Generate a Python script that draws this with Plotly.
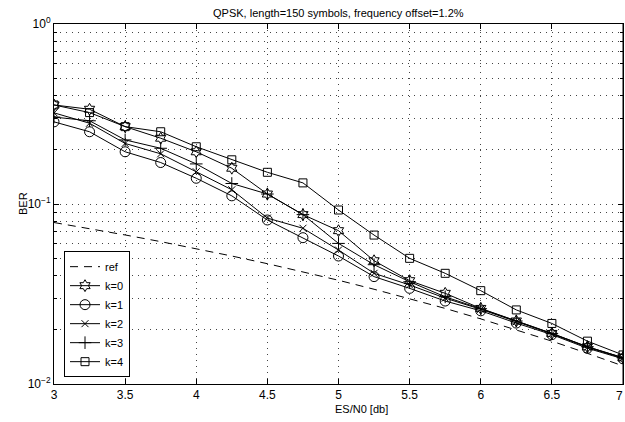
import plotly.graph_objects as go

esn0 = [3, 3.25, 3.5, 3.75, 4, 4.25, 4.5, 4.75, 5, 5.25, 5.5, 5.75, 6, 6.25, 6.5, 6.75, 7]
ref = [0.0789, 0.0730, 0.0673, 0.0618, 0.0565, 0.0514, 0.0466, 0.0420, 0.0377, 0.0336,
       0.0298, 0.0263, 0.0230, 0.0200, 0.0173, 0.0148, 0.0126]
k0 = [0.355, 0.336, 0.269, 0.232, 0.195, 0.158, 0.1136, 0.0873, 0.0711, 0.0484,
      0.0375, 0.0319, 0.0263, 0.0224, 0.0191, 0.0161, 0.0140]
k1 = [0.286, 0.252, 0.195, 0.170, 0.139, 0.111, 0.0815, 0.065, 0.0514, 0.0395,
      0.034, 0.0289, 0.0255, 0.0218, 0.0188, 0.0158, 0.0138]
k2 = [0.321, 0.281, 0.217, 0.190, 0.151, 0.120, 0.0835, 0.0733, 0.0555, 0.0412,
      0.0355, 0.0300, 0.0260, 0.0222, 0.0190, 0.0160, 0.0139]
k3 = [0.304, 0.290, 0.227, 0.204, 0.167, 0.130, 0.1136, 0.0873, 0.0604, 0.046,
      0.037, 0.0305, 0.0262, 0.0224, 0.0191, 0.0161, 0.0140]
k4 = [0.355, 0.322, 0.269, 0.252, 0.208, 0.176, 0.150, 0.131, 0.0926, 0.0672,
      0.0499, 0.0412, 0.0330, 0.0258, 0.0217, 0.0173, 0.0145]

x_ticks = [3, 3.5, 4, 4.5, 5, 5.5, 6, 6.5, 7]
x_tick_text = ["3", "3.5", "4", "4.5", "5", "5.5", "6", "6.5", "7"]

series = [("k=0", k0, "hexagram-open", 9), ("k=1", k1, "circle-open", 10),
          ("k=2", k2, "x-thin-open", 7), ("k=3", k3, "cross-thin-open", 9),
          ("k=4", k4, "square-open", 8)]

fig = go.Figure()
fig.add_trace(go.Scatter(x=esn0, y=ref, mode="lines", name="ref",
                         line=dict(color="black", width=1, dash="8px,6px")))
for name, vals, sym, sz in series:
    fig.add_trace(go.Scatter(x=esn0, y=vals, mode="lines+markers", name=name,
                             line=dict(color="black", width=1),
                             marker=dict(symbol=sym, size=sz, color="black",
                                         line=dict(color="black", width=1))))

minor_vals = [m * 10 ** e for e in (-2, -1) for m in range(2, 10)]
grid_dash = "1px,5px"
grid_col = "#444"

fig.update_layout(
    width=625, height=422,
    margin=dict(l=54, r=2, t=24, b=38),
    paper_bgcolor="white", plot_bgcolor="white",
    font=dict(family="Liberation Sans, Arial, sans-serif", size=12, color="black"),
    title=dict(text="QPSK, length=150 symbols, frequency offset=1.2%",
               x=0.5413, xanchor="center", y=0.968, yanchor="middle",
               font=dict(size=11)),
    showlegend=True,
    legend=dict(x=0.0176, y=0.019, xanchor="left", yanchor="bottom",
                bgcolor="white", bordercolor="black", borderwidth=1,
                font=dict(size=11), tracegroupgap=0, itemwidth=30),
    xaxis=dict(range=[3, 7], tickvals=x_ticks[:-1], ticktext=x_tick_text[:-1],
               showgrid=True, gridcolor=grid_col, griddash=grid_dash, gridwidth=1,
               showline=True, linecolor="black", linewidth=1, mirror="ticks",
               ticks="inside", ticklen=5, tickcolor="black", zeroline=False),
    yaxis=dict(type="log", range=[-2, 0], tickvals=[0.01, 0.1, 1],
               ticktext=["10<sup>−2</sup>", "10<sup>−1</sup>", "10<sup>0</sup>"],
               showgrid=True, gridcolor=grid_col, griddash=grid_dash, gridwidth=1,
               showline=True, linecolor="black", linewidth=1, mirror="ticks",
               ticks="inside", ticklen=5, tickcolor="black", zeroline=False,
               minor=dict(tickvals=minor_vals, showgrid=True, gridcolor=grid_col,
                          griddash=grid_dash, gridwidth=1, ticks="inside", ticklen=3,
                          tickcolor="black")),
    annotations=[
        dict(text=x_tick_text[-1], x=x_ticks[-1], xref="x", y=0, yref="paper",
             xanchor="right", xshift=2, yanchor="top", yshift=-3, showarrow=False,
             font=dict(size=12)),
        dict(text="ES/N0 [db]", x=0.5413, xref="paper", y=0, yref="paper",
             yanchor="top", yshift=-17, showarrow=False, font=dict(size=11)),
        dict(text="BER", x=0, xref="paper", xshift=-39, y=0.5, yref="paper",
             textangle=-90, showarrow=False, font=dict(size=11)),
    ],
)
fig.add_shape(type="line", xref="paper", yref="paper", x0=1, x1=1, y0=0, y1=1,
              line=dict(color="black", width=1))

fig.write_html("out.html", config={"displayModeBar": False},
               post_script="document.body.style.margin='0px';document.body.style.overflow='hidden';")
